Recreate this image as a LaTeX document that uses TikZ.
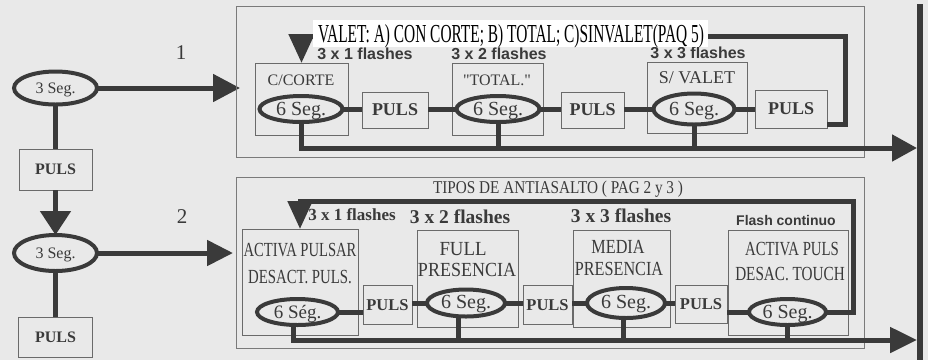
\documentclass[tikz,border=0pt]{standalone}
\usepackage{fontspec}
\usepackage{graphicx}
\setmainfont{Liberation Serif}
\newfontfamily\sansfam{Liberation Sans}
\newfontfamily\rawserif[Ligatures=TeXOff]{Liberation Serif}
\usetikzlibrary{shapes.geometric,arrows.meta}
\definecolor{bg}{HTML}{E9E9E9}
\definecolor{ink}{HTML}{3A3A3A}
\definecolor{boxc}{HTML}{6A6A6A}
\definecolor{grpc}{HTML}{7A7A7A}
\newcommand\hsc[2]{\scalebox{#1}[1]{#2}}
\begin{document}
\begin{tikzpicture}[x=1pt,y=-1pt,
  every node/.style={text=ink,inner sep=0pt,outer sep=0pt},
  fs/.style={font=\fontsize{#1}{#1}\selectfont},
  fsb/.style={font=\fontsize{#1}{#1}\selectfont\bfseries},
  fss/.style={font=\fontsize{#1}{#1}\selectfont\sansfam\bfseries},
  oval/.style={ellipse,draw=ink,line width=4pt},
  box/.style={rectangle,draw=boxc,line width=0.9pt},
  grp/.style={rectangle,draw=grpc,line width=0.9pt},
  conn/.style={draw=ink,line width=5pt},
]
\fill[bg] (0,0) rectangle (928,360);
\useasboundingbox (0,0) rectangle (928,360);
% right bar
\fill[ink] (917,4) rectangle (923,360);

% left column
\node[oval,minimum width=83pt,minimum height=33pt] (s1) at (55.5,88) {};
\node[fs=16,anchor=base] (s1t) at ([yshift=-5.5pt]s1.center) {3 Seg.};
\node[box,minimum width=73pt,minimum height=41pt,fsb=16] (p1) at (55.5,169.5) {PULS};
\node[oval,minimum width=83pt,minimum height=36pt] (s2) at (55.5,253) {};
\node[fs=16,anchor=base] (s2t) at ([yshift=-5.5pt]s2.center) {3 Seg.};
\node[box,minimum width=74pt,minimum height=40pt,fsb=16] (p2) at (55.5,337) {PULS};
\coordinate (a1) at (240,88);
\coordinate (a2) at (233,253);
\draw[conn] (s1) -- (p1);
\draw[conn,-{Triangle[length=24pt,width=30pt]}] (p1) -- (s2);
\draw[conn] (s2) -- (p2);
\draw[conn,-{Triangle[length=27pt,width=27pt]}] (s1) -- (a1);
\draw[conn,-{Triangle[length=26pt,width=25pt]}] (s2) -- (a2);
\node[fs=21] (n1) at (181,53) {1};
\node[fs=21] (n2) at (182,217) {2};

% group boxes
\node[grp,minimum width=628pt,minimum height=151pt] (g1) at (550,81.5) {};
\node[grp,minimum width=628pt,minimum height=171pt] (g2) at (550,262.5) {};

% ---- top group ----
\node[box,minimum width=93pt,minimum height=72pt] (b1) at (301.5,99) {};
\node[fs=16] (b1t) at (301,80) {C/CORTE};
\node[oval,minimum width=83pt,minimum height=26pt] (e1) at (301,109) {};
\node[fs=20,anchor=base] (e1t) at ([yshift=-6.6pt]e1.center) {6 Seg.};
\node[box,minimum width=66pt,minimum height=36pt,fsb=18] (q1) at (395,110) {PULS};
\node[box,minimum width=91pt,minimum height=72pt] (b2) at (497.5,99) {};
\node[font=\fontsize{16}{16}\selectfont\rawserif] (b2t) at (497,80) {"TOTAL."};
\node[oval,minimum width=83pt,minimum height=26pt] (e2) at (498,109) {};
\node[fs=20,anchor=base] (e2t) at ([yshift=-6.6pt]e2.center) {6 Seg.};
\node[box,minimum width=63pt,minimum height=36pt,fsb=18] (q2) at (592.5,110) {PULS};
\node[box,minimum width=100pt,minimum height=71pt] (b3) at (697,97.5) {};
\node[fs=18] (b3t) at (697,78) {S/ VALET};
\node[oval,minimum width=81pt,minimum height=31pt] (e3) at (694,109) {};
\node[fs=20,anchor=base] (e3t) at ([yshift=-6.6pt]e3.center) {6 Seg.};
\node[box,minimum width=72pt,minimum height=38pt,fsb=18] (q3) at (791,109) {PULS};

\node[fss=16] (fl1) at (365,54) {3 x 1 flashes};
\node[fss=16] (fl2) at (499,54) {3 x 2 flashes};
\node[fss=16] (fl3) at (698,53) {3 x 3 flashes};

\draw[conn] (e1) -- (e1 -| q1.west);
\draw[conn] (q1.east |- e2) -- (e2);
\draw[conn] (e2) -- (e2 -| q2.west);
\draw[conn] (q2.east |- e3) -- (e3);
\draw[conn] (e3) -- (e3 -| q3.west);

\coordinate (k1) at (845,36);
\draw[conn,-{Triangle[length=29pt,width=25pt]}] ([yshift=4pt]q3.south east) -| (k1) -| (b1.north);

\coordinate (t1) at (917,148);
\draw[conn,-{Triangle[length=25pt,width=26pt]}] (e1.south) |- (t1);
\draw[conn] (e2.south) -- (e2.south |- t1);
\draw[conn] (e3.south) -- (e3.south |- t1);

% white label
\node[fill=white,minimum width=395pt,minimum height=27pt] (lbl) at (510.5,33.5) {};
\node[anchor=base west,text=black] (lblt) at (318,42) {\resizebox{386pt}{18pt}{VALET: A) CON CORTE; B) TOTAL; C)SINVALET(PAQ 5)}};

% ---- bottom group ----
\node[anchor=base] (g2t) at (558,193) {\resizebox{250pt}{12.5pt}{TIPOS DE ANTIASALTO ( PAG 2 y 3 )}};

\node[box,minimum width=116pt,minimum height=106pt] (c1) at (300,282) {};
\node[fs=20] (c1a) at (300,250) {\hsc{0.73}{ACTIVA PULSAR}};
\node[fs=20] (c1b) at (300,277) {\hsc{0.74}{DESACT. PULS.}};
\node[oval,minimum width=81pt,minimum height=26pt] (f1) at (297.5,312) {};
\node[fs=19,anchor=base] (f1t) at ([yshift=-6.3pt]f1.center) {6 Ség.};
\node[box,minimum width=49pt,minimum height=39pt,fsb=16.5] (r1) at (387.5,305) {PULS};

\node[box,minimum width=101pt,minimum height=97pt] (c2) at (467.5,278.5) {};
\node[fs=20] (c2a) at (463,249) {\hsc{0.94}{FULL}};
\node[fs=20] (c2b) at (467,270) {\hsc{0.9}{PRESENCIA}};
\node[oval,minimum width=78pt,minimum height=27pt] (f2) at (466,303) {};
\node[fs=20,anchor=base] (f2t) at ([yshift=-5.5pt]f2.center) {6 Seg.};
\node[box,minimum width=49pt,minimum height=39pt,fsb=16.5] (r2) at (547.5,305) {PULS};

\node[box,minimum width=97pt,minimum height=97pt] (c3) at (621.5,278.5) {};
\node[fs=20] (c3a) at (618,247) {\hsc{0.81}{MEDIA}};
\node[fs=20] (c3b) at (619,269) {\hsc{0.81}{PRESENCIA}};
\node[oval,minimum width=78pt,minimum height=30pt] (f3) at (626,303) {};
\node[fs=20,anchor=base] (f3t) at ([yshift=-5.5pt]f3.center) {6 Seg.};
\node[box,minimum width=52pt,minimum height=38pt,fsb=16.5] (r3) at (701,304) {PULS};

\node[box,minimum width=120pt,minimum height=105pt] (c4) at (788,282.5) {};
\node[fs=20] (c4a) at (792,249) {\hsc{0.74}{ACTIVA PULS}};
\node[fs=20] (c4b) at (790,274) {\hsc{0.76}{DESAC. TOUCH}};
\node[oval,minimum width=77pt,minimum height=26pt] (f4) at (787.5,312) {};
\node[fs=20,anchor=base] (f4t) at ([yshift=-6.6pt]f4.center) {6 Seg.};

\node[fsb=17] (fm1) at (352,215) {3 x 1 flashes};
\node[fsb=19.5] (fm2) at (460,217) {3 x 2 flashes};
\node[fsb=19.5] (fm3) at (621,216) {3 x 3 flashes};
\node[fss=14] (fm4) at (786,220) {Flash continuo};

\draw[conn] (f1.east) -- (f1.east -| r1.west);
\draw[conn] (r1.east |- f2) -- (f2);
\draw[conn] (f2) -- (f2 -| r2.west);
\draw[conn] (r2.east |- f3) -- (f3);
\draw[conn] (f3) -- (f3 -| r3.west);
\draw[conn] (f4.west) -- (f4.west -| r3.east);

\coordinate (k2) at (853,201);
\draw[conn,-{Triangle[length=28pt,width=24pt]}] (f4.east) -| (k2) -| (c1.north);

\coordinate (t2) at (917,340);
\draw[conn,-{Triangle[length=27pt,width=25pt]}] ([xshift=-4pt]f1.south) |- (t2);
\draw[conn] ([xshift=-8pt]f2.south) -- ([xshift=-8pt]f2.south |- t2);
\draw[conn] ([xshift=-3pt]f3.south) -- ([xshift=-3pt]f3.south |- t2);
\draw[conn] (f4.south) -- (f4.south |- t2);
\end{tikzpicture}
\end{document}
